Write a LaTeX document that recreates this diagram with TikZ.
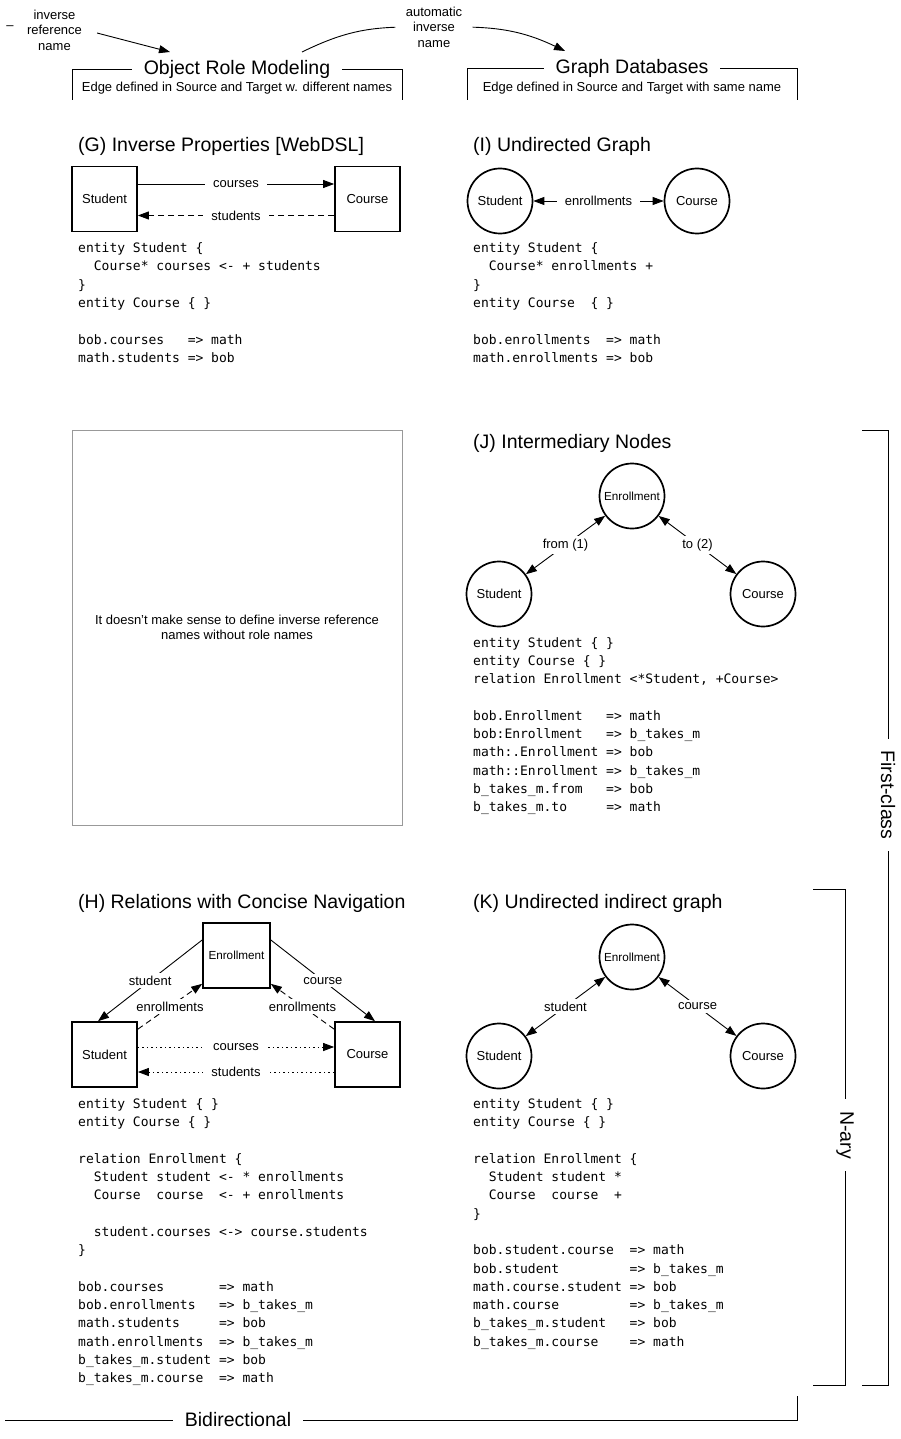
\documentclass[tikz,border=0pt]{standalone}
\usepackage{fontspec}
\setmainfont{Liberation Sans}
\newfontfamily\codefont{DejaVu Sans Mono}
\usetikzlibrary{arrows.meta,positioning}

\newcommand{\lblfont}{\fontsize{13}{15.5}\selectfont}
\newcommand{\hdrfont}{\fontsize{19.5}{23}\selectfont}
\newcommand{\smfont}{\fontsize{11.7}{14}\selectfont}

\tikzset{
  entbox/.style={draw, line width=1.7pt, minimum width=65pt, minimum height=65pt,
    inner sep=0pt, font=\lblfont},
  entcirc/.style={draw, circle, line width=1.7pt, minimum size=65pt, inner sep=0pt,
    font=\lblfont},
  edgelbl/.style={fill=white, inner xsep=8pt, inner ysep=3pt, font=\lblfont},
  hdr/.style={anchor=base west, inner sep=0pt, font=\hdrfont},
  % base of a code block = baseline of its last line
  codeblk/.style={anchor=base west, align=left, inner sep=0pt,
    font=\codefont\fontsize{13}{18.3}\selectfont},
  brlbl/.style={fill=white, inner xsep=12pt, inner ysep=0pt, font=\hdrfont},
  onearr/.style={-{Triangle[length=11pt,width=8pt]}, line width=0.9pt},
  twoarr/.style={{Triangle[length=11pt,width=8pt]}-{Triangle[length=11pt,width=8pt]},
    line width=0.9pt},
  dashln/.style={dash pattern=on 6pt off 4pt},
  dotln/.style={dash pattern=on 1.5pt off 3pt},
}

\begin{document}
\begin{tikzpicture}[x=1pt, y=-1pt]
  \useasboundingbox (0,0) rectangle (901,1439);

  % Notes on top
  \node[font=\lblfont] (dash) at (10,28) {–};
  \node[font=\lblfont, align=center] (invref) at (54.5,30) {inverse\\reference\\name};
  \node[font=\lblfont, align=center] (autoname) at (434,27) {automatic\\inverse\\name};
  \coordinate (ormtip) at (170,52);
  \coordinate (ormend) at (302,52);
  \coordinate (gdtip) at (565,51);
  \draw[onearr, shorten <=12pt] (invref.east) -- (ormtip);
  \draw[line width=0.9pt, shorten <=7pt] (autoname.west) to[bend right=12] (ormend);
  \draw[onearr, shorten <=7pt] (autoname.east) to[bend left=12] (gdtip);

  % Column headers
  \draw (72,100) |- (402,69) -- (402,100);
  \node[brlbl] (orm) at (237,69) {Object Role Modeling};
  \node[font=\lblfont] (ormsub) at (237,88)
    {Edge defined in Source and Target w. different names};
  \draw (467,100) |- (797,68) -- (797,100);
  \node[brlbl] (gdb) at (632,68) {Graph Databases};
  \node[font=\lblfont] (gdbsub) at (632,88)
    {Edge defined in Source and Target with same name};

  % (G)
  \node[hdr] (hdrG) at (78,152) {(G) Inverse Properties [WebDSL]};
  \node[entbox] (stuG) at (104.5,199) {Student};
  \node[entbox] (crsG) at (367.5,199) {Course};
  \draw[onearr] ([yshift=15pt]stuG.east) -- ([yshift=15pt]crsG.west)
    node[edgelbl, midway] {courses};
  \draw[onearr, dashln] ([yshift=-16.5pt]crsG.west) -- ([yshift=-16.5pt]stuG.east)
    node[edgelbl, midway] {students};
  \node[codeblk] (codeG) at (78,362.3) {entity Student \{\\
    ~~Course* courses <- + students\\
    \}\\
    entity Course \{ \}\\
    ~\\
    bob.courses~~~=> math\\
    math.students => bob};

  % (I)
  \node[hdr] (hdrI) at (473,152) {(I) Undirected Graph};
  \node[entcirc] (stuI) at (500,201) {Student};
  \node[entcirc] (crsI) at (697,201) {Course};
  \draw[twoarr] (stuI) -- (crsI) node[edgelbl, midway] {enrollments};
  \node[codeblk] (codeI) at (473,362.3) {entity Student \{\\
    ~~Course* enrollments +\\
    \}\\
    entity Course~~\{ \}\\
    ~\\
    bob.enrollments~~=> math\\
    math.enrollments => bob};

  % empty cell
  \node[draw=gray!80, line width=0.8pt, minimum width=330pt, minimum height=395pt,
    align=center, font=\lblfont] (nobox) at (237,627.5)
    {It doesn’t make sense to define inverse reference\\names without role names};

  % (J)
  \node[hdr] (hdrJ) at (473,448) {(J) Intermediary Nodes};
  \node[entcirc, font=\smfont] (enrJ) at (632,496) {Enrollment};
  \node[entcirc] (stuJ) at (499,594) {Student};
  \node[entcirc] (crsJ) at (763,594) {Course};
  \draw[twoarr] (enrJ) -- (stuJ) node[edgelbl, midway] {from (1)};
  \draw[twoarr] (enrJ) -- (crsJ) node[edgelbl, midway] {to (2)};
  \node[codeblk] (codeJ) at (473,811.7) {entity Student \{ \}\\
    entity Course \{ \}\\
    relation Enrollment <*Student, +Course>\\
    ~\\
    bob.Enrollment~~~=> math\\
    bob:Enrollment~~~=> b\_takes\_m\\
    math:.Enrollment => bob\\
    math::Enrollment => b\_takes\_m\\
    b\_takes\_m.from~~~=> bob\\
    b\_takes\_m.to~~~~~=> math};

  % (H)
  \node[hdr] (hdrH) at (78,908) {(H) Relations with Concise Navigation};
  \node[entbox, font=\smfont, minimum width=67pt] (enrH) at (236.5,955.5) {Enrollment};
  \node[entbox] (stuH) at (104.5,1054.5) {Student};
  \node[entbox] (crsH) at (367.5,1054.5) {Course};
  \draw[onearr] ([yshift=15.5pt]enrH.west) -- ([xshift=-6.5pt]stuH.north)
    node[edgelbl, midway] {student};
  \draw[onearr] ([yshift=15.5pt]enrH.east) -- ([xshift=7.5pt]crsH.north)
    node[edgelbl, midway] {course};
  \draw[onearr, dashln] ([yshift=-8pt]stuH.north east) -- ([yshift=5pt]enrH.south west)
    node[edgelbl, midway] {enrollments};
  \draw[onearr, dashln] ([yshift=-8pt]crsH.north west) -- ([yshift=5pt]enrH.south east)
    node[edgelbl, midway] {enrollments};
  \draw[onearr, dotln] ([yshift=7.5pt]stuH.east) -- ([yshift=7.5pt]crsH.west)
    node[edgelbl, midway] {courses};
  \draw[onearr, dotln] ([yshift=-17.5pt]crsH.west) -- ([yshift=-17.5pt]stuH.east)
    node[edgelbl, midway] {students};
  \node[codeblk] (codeH) at (78,1382.8) {entity Student \{ \}\\
    entity Course \{ \}\\
    ~\\
    relation Enrollment \{\\
    ~~Student student <- * enrollments\\
    ~~Course~~course~~<- + enrollments\\
    ~\\
    ~~student.courses <-> course.students\\
    \}\\
    ~\\
    bob.courses~~~~~~~=> math\\
    bob.enrollments~~~=> b\_takes\_m\\
    math.students~~~~~=> bob\\
    math.enrollments~~=> b\_takes\_m\\
    b\_takes\_m.student => bob\\
    b\_takes\_m.course~~=> math};

  % (K)
  \node[hdr] (hdrK) at (473,908) {(K) Undirected indirect graph};
  \node[entcirc, font=\smfont] (enrK) at (632,957) {Enrollment};
  \node[entcirc] (stuK) at (499,1056) {Student};
  \node[entcirc] (crsK) at (763,1056) {Course};
  \draw[twoarr] (enrK) -- (stuK) node[edgelbl, midway] {student};
  \draw[twoarr] (enrK) -- (crsK) node[edgelbl, midway] {course};
  \node[codeblk] (codeK) at (473,1346.2) {entity Student \{ \}\\
    entity Course \{ \}\\
    ~\\
    relation Enrollment \{\\
    ~~Student student *\\
    ~~Course~~course~~+\\
    \}\\
    ~\\
    bob.student.course~~=> math\\
    bob.student~~~~~~~~~=> b\_takes\_m\\
    math.course.student => bob\\
    math.course~~~~~~~~~=> b\_takes\_m\\
    b\_takes\_m.student~~~=> bob\\
    b\_takes\_m.course~~~~=> math};

  % Brackets
  \draw (862,430) -- (888,430) -- (888,1385) -- (862,1385);
  \node[brlbl, rotate=-90] (fclass) at (888,795) {First-class};
  \draw (813,889) -- (845,889) -- (845,1385) -- (813,1385);
  \node[brlbl, rotate=-90] (nary) at (845,1135) {N-ary};
  \draw (5,1420) -- (797,1420) -- (797,1396);
  \node[brlbl] (bidir) at (238,1420) {Bidirectional};
\end{tikzpicture}
\end{document}
